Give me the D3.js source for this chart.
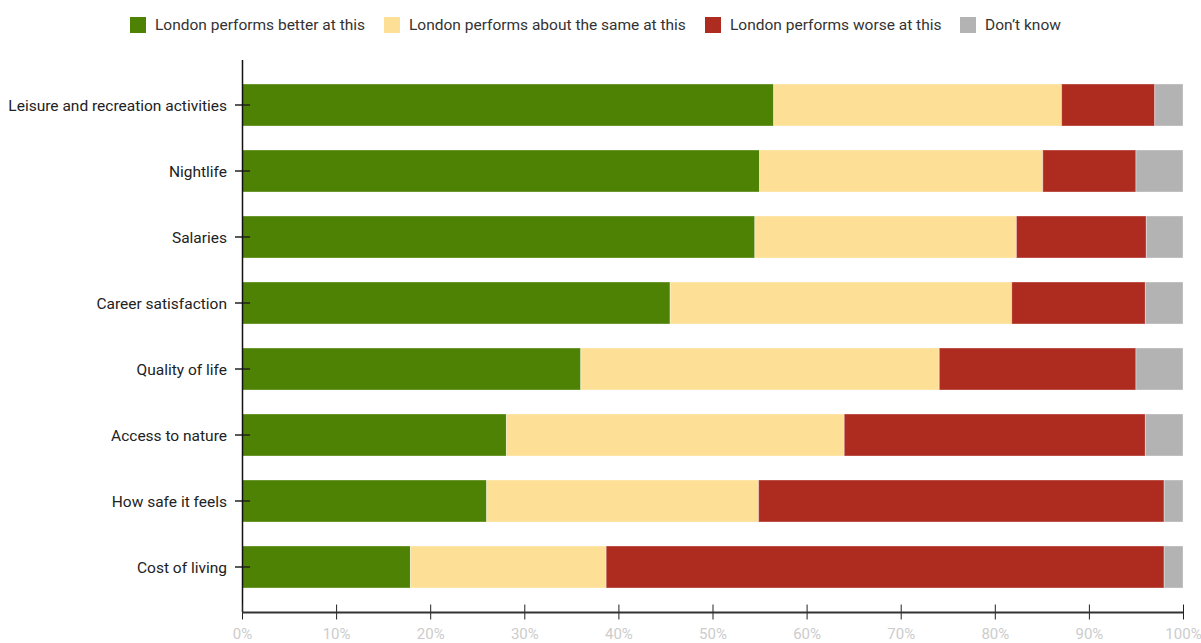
<!DOCTYPE html>
<html><head><meta charset="utf-8">
<script src="https://cdn.jsdelivr.net/npm/d3@7"></script>
<style>body{margin:0;background:#fff;}svg{display:block;font-family:Roboto,sans-serif;}</style>
</head><body>
<svg id="chart" width="1201" height="643"></svg>
<script>
const categories = ["Leisure and recreation activities","Nightlife","Salaries","Career satisfaction","Quality of life","Access to nature","How safe it feels","Cost of living"];
const seriesNames = ["London performs better at this","London performs about the same at this","London performs worse at this","Don\u2019t know"];
const better = [56.5, 55.0, 54.5, 45.5, 36.0, 28.1, 26.0, 17.9];
const same   = [30.6, 30.1, 27.8, 36.3, 38.1, 35.9, 28.9, 20.8];
const worse  = [ 9.9,  9.9, 13.8, 14.2, 20.9, 32.0, 43.1, 59.3];
const dontKnow=[ 3.0,  5.0,  3.9,  4.0,  5.0,  4.0,  2.0,  2.0];
const tickValues = [0,10,20,30,40,50,60,70,80,90,100];
const colors = ["#4e8204","#fde096","#ae2b20","#b3b3b3"];

const svg = d3.select("#chart");
const x = d3.scaleLinear().domain([0,100]).range([242,1183]);
const y = d3.scaleBand().domain(categories).range([84,588]).paddingInner(24/66).paddingOuter(0);

const rows = categories.map((c,i)=>({cat:c, v:[better[i],same[i],worse[i],dontKnow[i]]}));
const keys = [0,1,2,3];
const stack = d3.stack().keys(keys).value((d,k)=>d.v[k]);
const stacked = stack(rows);

svg.append("g").selectAll("g").data(stacked).join("g")
  .attr("fill",(d,i)=>colors[i])
  .selectAll("rect").data(d=>d).join("rect")
  .attr("x",d=>x(d[0]))
  .attr("width",d=>x(d[1])-x(d[0]))
  .attr("y",d=>y(d.data.cat))
  .attr("height",y.bandwidth())
  .attr("stroke","rgba(255,255,255,0.35)")
  .attr("stroke-width",1);

// y axis
const yAxis = d3.axisLeft(y).tickSize(0).tickPadding(15);
const yg = svg.append("g").attr("transform","translate(242,0)").call(yAxis);
yg.select(".domain").remove();
yg.selectAll("text").attr("font-size",15.5).attr("fill","#222").attr("font-family","Roboto,sans-serif").attr("dy","0.4em");
yg.selectAll(".tick").append("line").attr("x1",-7).attr("x2",8).attr("stroke","#222").attr("stroke-width",1.5);
svg.append("line").attr("x1",242.5).attr("x2",242.5).attr("y1",60).attr("y2",612).attr("stroke","#111").attr("stroke-width",1.5);

// x axis
const xAxis = d3.axisBottom(x).tickValues(tickValues).tickFormat(d=>d+"%").tickSize(0).tickPadding(16);
const xg = svg.append("g").attr("transform","translate(0,612.5)").call(xAxis);
xg.select(".domain").remove();
xg.selectAll("text").attr("font-size",15).attr("fill","#cccccc").attr("font-family","Roboto,sans-serif");
xg.selectAll(".tick").append("line").attr("y1",-8).attr("y2",7).attr("stroke","#222").attr("stroke-width",1);
svg.append("line").attr("x1",242).attr("x2",1183).attr("y1",612.5).attr("y2",612.5).attr("stroke","#333").attr("stroke-width",2);

// legend
const legendX = [130,384,705,960];
const lg = svg.append("g").selectAll("g").data(seriesNames).join("g")
  .attr("transform",(d,i)=>`translate(${legendX[i]},17)`);
lg.append("rect").attr("width",16).attr("height",16).attr("fill",(d,i)=>colors[i]);
lg.append("text").attr("x",25).attr("y",8).attr("dy","0.35em").attr("font-size",15.5).attr("fill","#333").text(d=>d);
</script>
</body></html>
